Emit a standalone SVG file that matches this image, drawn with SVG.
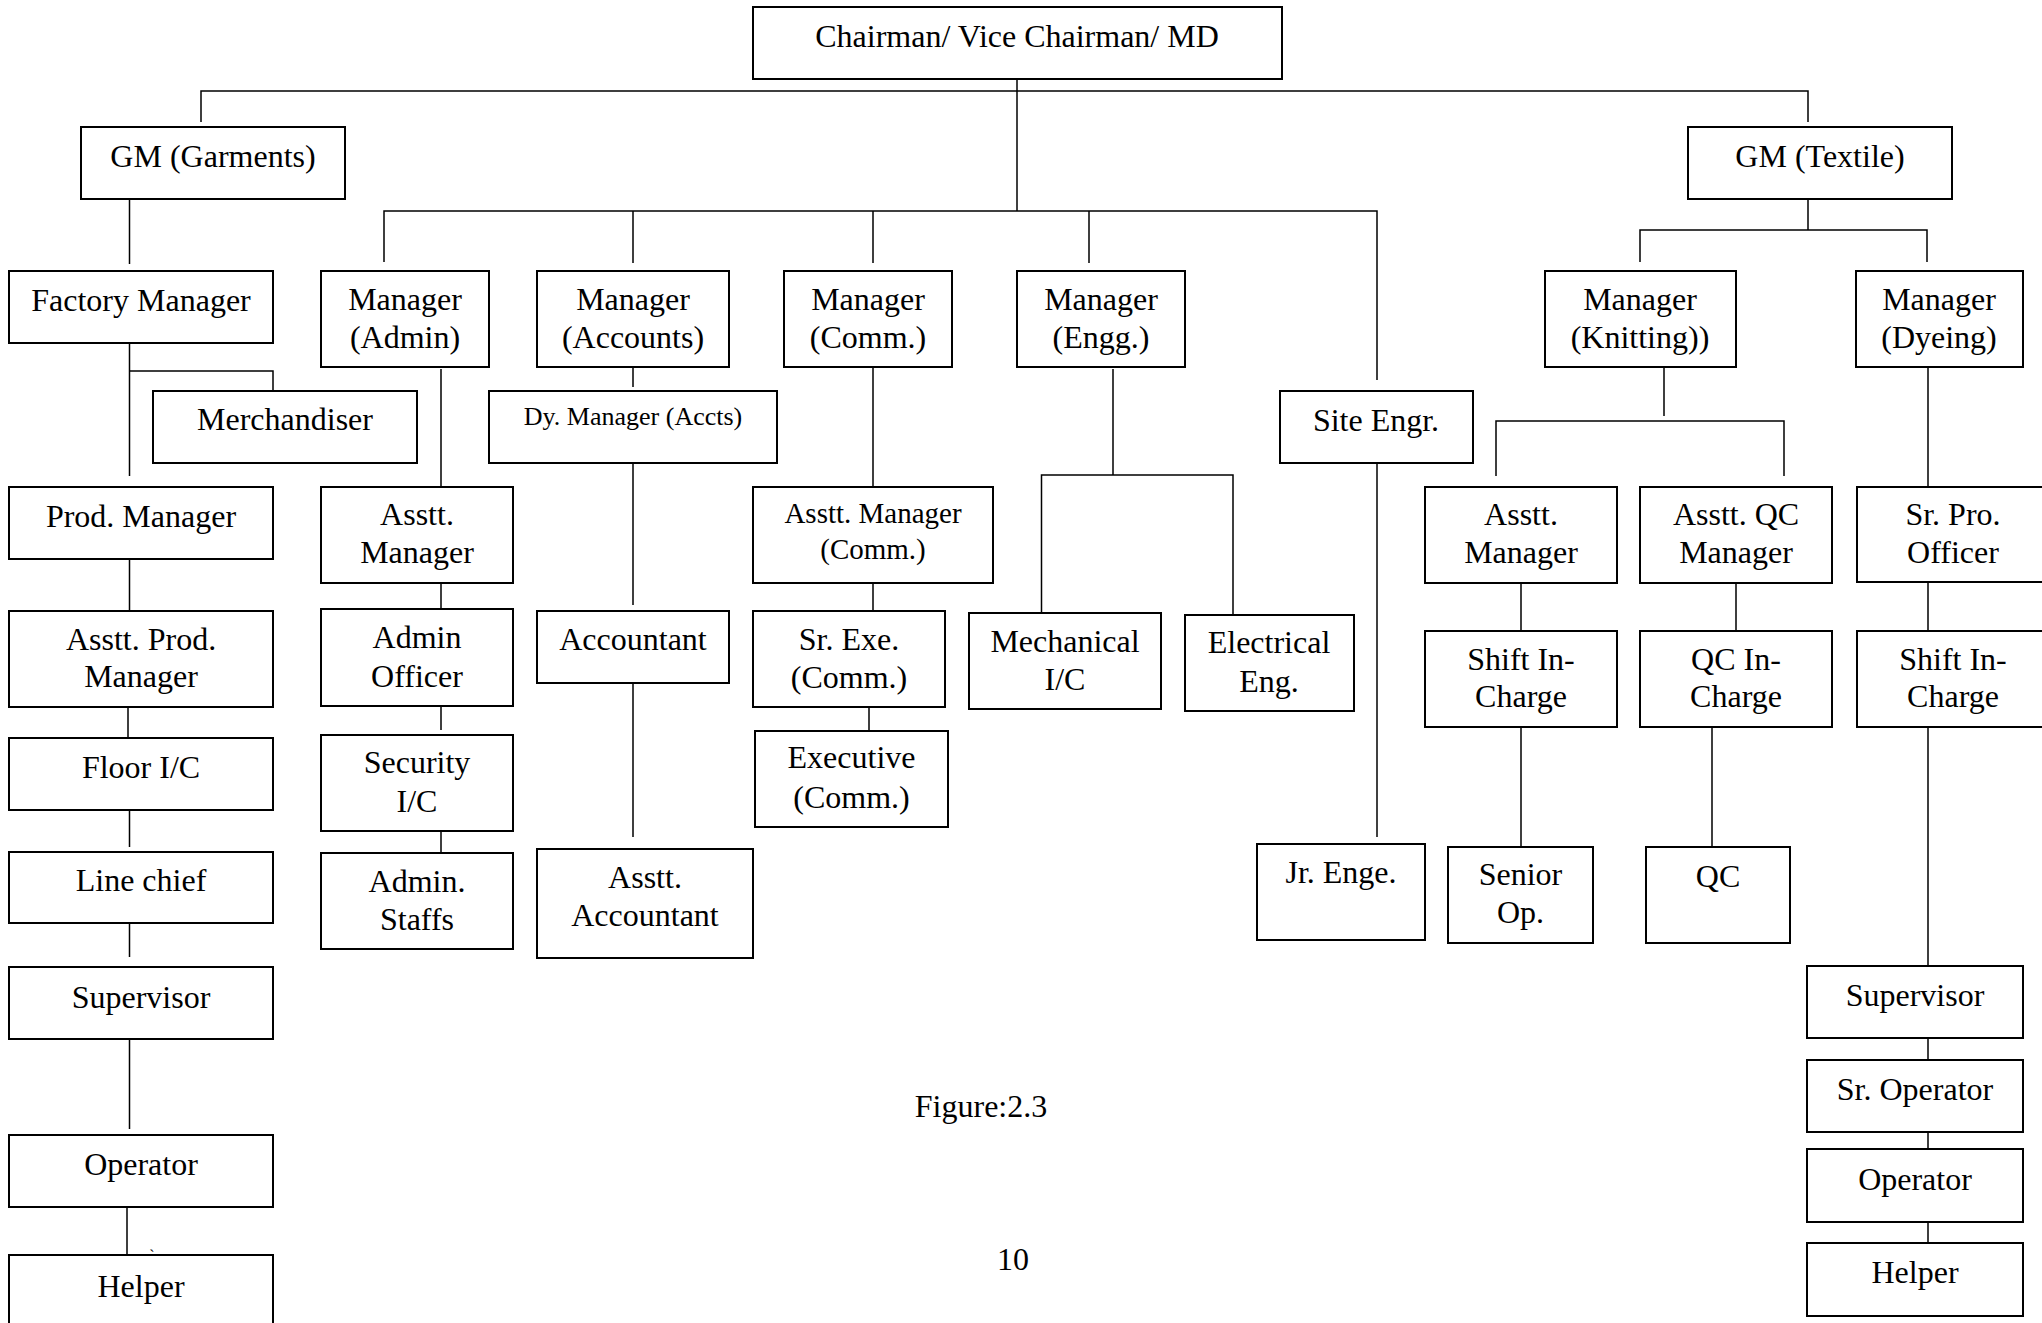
<svg xmlns="http://www.w3.org/2000/svg" width="2042" height="1323" viewBox="0 0 2042 1323">
<style>
.b{fill:#fff;stroke:#000;stroke-width:2}
.t{font-family:"Liberation Serif","Times New Roman",serif;font-size:32px;fill:#000;text-anchor:middle}
.s29{font-size:29px}
.s26{font-size:26px}
.s16{font-size:16px}
.c{fill:none;stroke:#000;stroke-width:1.5}
</style>
<rect width="2042" height="1323" fill="#fff"/>
<g id="connectors">
<path class="c" d="M201,122 V91 H1808 V122"/>
<path class="c" d="M1017,79 V211"/>
<path class="c" d="M384,262 V211 H1377 V380"/>
<path class="c" d="M633,211 V263 M873,211 V263 M1089,211 V263"/>
<path class="c" d="M129.5,199 V264"/>
<path class="c" d="M129.5,343 V476 M129.5,371 H273 V394"/>
<path class="c" d="M129.5,559 V610 M128,703 V738 M129.5,810 V847 M129.5,920 V957 M129.5,1039 V1129 M127,1202 V1254"/>
<path class="c" d="M441,369 V490 M441,583 V609 M441,706 V730 M441,828 V853"/>
<path class="c" d="M633,362 V387 M633,460 V605 M633,679 V837"/>
<path class="c" d="M873,367 V487 M873,583 V611 M869,703 V731"/>
<path class="c" d="M1113,369 V475 M1041.5,620 V475 H1233 V620"/>
<path class="c" d="M1377,463 V837"/>
<path class="c" d="M1808,199 V230 M1640,262 V230 H1927 V262"/>
<path class="c" d="M1664,367 V416 M1496,476 V421 H1784 V476"/>
<path class="c" d="M1521,578 V631 M1521,727 V848 M1736,578 V631 M1712,724 V846"/>
<path class="c" d="M1928,367 V487 M1928,578 V631 M1928,727 V967 M1928,1036 V1060 M1928,1126 V1149 M1928,1218 V1243"/>
</g>
<g id="chairman"><rect class="b" x="753" y="7" width="529" height="72"/><text class="t" x="1017" y="47">Chairman/ Vice Chairman/ MD</text></g>
<g id="gm-garments"><rect class="b" x="81" y="127" width="264" height="72"/><text class="t" x="213" y="167">GM (Garments)</text></g>
<g id="gm-textile"><rect class="b" x="1688" y="127" width="264" height="72"/><text class="t" x="1820" y="167">GM (Textile)</text></g>
<g id="factory-manager"><rect class="b" x="9" y="271" width="264" height="72"/><text class="t" x="141" y="311">Factory Manager</text></g>
<g id="manager-admin"><rect class="b" x="321" y="271" width="168" height="96"/><text class="t" x="405" y="310">Manager</text><text class="t" x="405" y="348">(Admin)</text></g>
<g id="manager-accounts"><rect class="b" x="537" y="271" width="192" height="96"/><text class="t" x="633" y="310">Manager</text><text class="t" x="633" y="348">(Accounts)</text></g>
<g id="manager-comm"><rect class="b" x="784" y="271" width="168" height="96"/><text class="t" x="868" y="310">Manager</text><text class="t" x="868" y="348">(Comm.)</text></g>
<g id="manager-engg"><rect class="b" x="1017" y="271" width="168" height="96"/><text class="t" x="1101" y="310">Manager</text><text class="t" x="1101" y="348">(Engg.)</text></g>
<g id="manager-knitting"><rect class="b" x="1545" y="271" width="191" height="96"/><text class="t" x="1640" y="310">Manager</text><text class="t" x="1640" y="348">(Knitting))</text></g>
<g id="manager-dyeing"><rect class="b" x="1856" y="271" width="167" height="96"/><text class="t" x="1939" y="310">Manager</text><text class="t" x="1939" y="348">(Dyeing)</text></g>
<g id="merchandiser"><rect class="b" x="153" y="391" width="264" height="72"/><text class="t" x="285" y="430">Merchandiser</text></g>
<g id="dy-manager"><rect class="b" x="489" y="391" width="288" height="72"/><text class="t s26" x="633" y="425">Dy. Manager (Accts)</text></g>
<g id="site-engr"><rect class="b" x="1280" y="391" width="193" height="72"/><text class="t" x="1376" y="431">Site Engr.</text></g>
<g id="prod-manager"><rect class="b" x="9" y="487" width="264" height="72"/><text class="t" x="141" y="527">Prod. Manager</text></g>
<g id="asstt-manager-admin"><rect class="b" x="321" y="487" width="192" height="96"/><text class="t" x="417" y="525">Asstt.</text><text class="t" x="417" y="563">Manager</text></g>
<g id="asstt-manager-comm"><rect class="b" x="753" y="487" width="240" height="96"/><text class="t s29" x="873" y="523">Asstt. Manager</text><text class="t s29" x="873" y="559">(Comm.)</text></g>
<g id="asstt-manager-knitting"><rect class="b" x="1425" y="487" width="192" height="96"/><text class="t" x="1521" y="525">Asstt.</text><text class="t" x="1521" y="563">Manager</text></g>
<g id="asstt-qc-manager"><rect class="b" x="1640" y="487" width="192" height="96"/><text class="t" x="1736" y="525">Asstt. QC</text><text class="t" x="1736" y="563">Manager</text></g>
<g id="sr-pro-officer"><rect class="b" x="1857" y="487" width="200" height="95"/><text class="t" x="1953" y="525">Sr. Pro.</text><text class="t" x="1953" y="563">Officer</text></g>
<g id="asstt-prod-manager"><rect class="b" x="9" y="611" width="264" height="96"/><text class="t" x="141" y="650">Asstt. Prod.</text><text class="t" x="141" y="687">Manager</text></g>
<g id="admin-officer"><rect class="b" x="321" y="609" width="192" height="97"/><text class="t" x="417" y="648">Admin</text><text class="t" x="417" y="687">Officer</text></g>
<g id="accountant"><rect class="b" x="537" y="611" width="192" height="72"/><text class="t" x="633" y="650">Accountant</text></g>
<g id="sr-exe-comm"><rect class="b" x="753" y="611" width="192" height="96"/><text class="t" x="849" y="650">Sr. Exe.</text><text class="t" x="849" y="688">(Comm.)</text></g>
<g id="mechanical-ic"><rect class="b" x="969" y="613" width="192" height="96"/><text class="t" x="1065" y="652">Mechanical</text><text class="t" x="1065" y="690">I/C</text></g>
<g id="electrical-eng"><rect class="b" x="1185" y="615" width="169" height="96"/><text class="t" x="1269" y="653">Electrical</text><text class="t" x="1269" y="692">Eng.</text></g>
<g id="shift-incharge-knitting"><rect class="b" x="1425" y="631" width="192" height="96"/><text class="t" x="1521" y="670">Shift In-</text><text class="t" x="1521" y="707">Charge</text></g>
<g id="qc-incharge"><rect class="b" x="1640" y="631" width="192" height="96"/><text class="t" x="1736" y="670">QC In-</text><text class="t" x="1736" y="707">Charge</text></g>
<g id="shift-incharge-dyeing"><rect class="b" x="1857" y="631" width="200" height="96"/><text class="t" x="1953" y="670">Shift In-</text><text class="t" x="1953" y="707">Charge</text></g>
<g id="floor-ic"><rect class="b" x="9" y="738" width="264" height="72"/><text class="t" x="141" y="778">Floor I/C</text></g>
<g id="security-ic"><rect class="b" x="321" y="735" width="192" height="96"/><text class="t" x="417" y="773">Security</text><text class="t" x="417" y="812">I/C</text></g>
<g id="executive-comm"><rect class="b" x="755" y="731" width="193" height="96"/><text class="t" x="851.5" y="768">Executive</text><text class="t" x="851.5" y="808">(Comm.)</text></g>
<g id="line-chief"><rect class="b" x="9" y="852" width="264" height="71"/><text class="t" x="141" y="891">Line chief</text></g>
<g id="admin-staffs"><rect class="b" x="321" y="853" width="192" height="96"/><text class="t" x="417" y="892">Admin.</text><text class="t" x="417" y="930">Staffs</text></g>
<g id="asstt-accountant"><rect class="b" x="537" y="849" width="216" height="109"/><text class="t" x="645" y="888">Asstt.</text><text class="t" x="645" y="926">Accountant</text></g>
<g id="jr-enge"><rect class="b" x="1257" y="844" width="168" height="96"/><text class="t" x="1341" y="883">Jr. Enge.</text></g>
<g id="senior-op"><rect class="b" x="1448" y="847" width="145" height="96"/><text class="t" x="1520.5" y="885">Senior</text><text class="t" x="1520.5" y="923">Op.</text></g>
<g id="qc"><rect class="b" x="1646" y="847" width="144" height="96"/><text class="t" x="1718" y="887">QC</text></g>
<g id="supervisor-garments"><rect class="b" x="9" y="967" width="264" height="72"/><text class="t" x="141" y="1008">Supervisor</text></g>
<g id="supervisor-textile"><rect class="b" x="1807" y="966" width="216" height="72"/><text class="t" x="1915" y="1006">Supervisor</text></g>
<g id="sr-operator"><rect class="b" x="1807" y="1060" width="216" height="72"/><text class="t" x="1915" y="1100">Sr. Operator</text></g>
<g id="operator-garments"><rect class="b" x="9" y="1135" width="264" height="72"/><text class="t" x="141" y="1175">Operator</text></g>
<g id="operator-textile"><rect class="b" x="1807" y="1149" width="216" height="73"/><text class="t" x="1915" y="1190">Operator</text></g>
<g id="helper-garments"><rect class="b" x="9" y="1255" width="264" height="80"/><text class="t" x="141" y="1297">Helper</text></g>
<g id="helper-textile"><rect class="b" x="1807" y="1243" width="216" height="73"/><text class="t" x="1915" y="1283">Helper</text></g>
<text class="t s16" x="152" y="1261">`</text>
<text class="t" x="981" y="1117">Figure:2.3</text>
<text class="t" x="1013" y="1270">10</text>
</svg>
